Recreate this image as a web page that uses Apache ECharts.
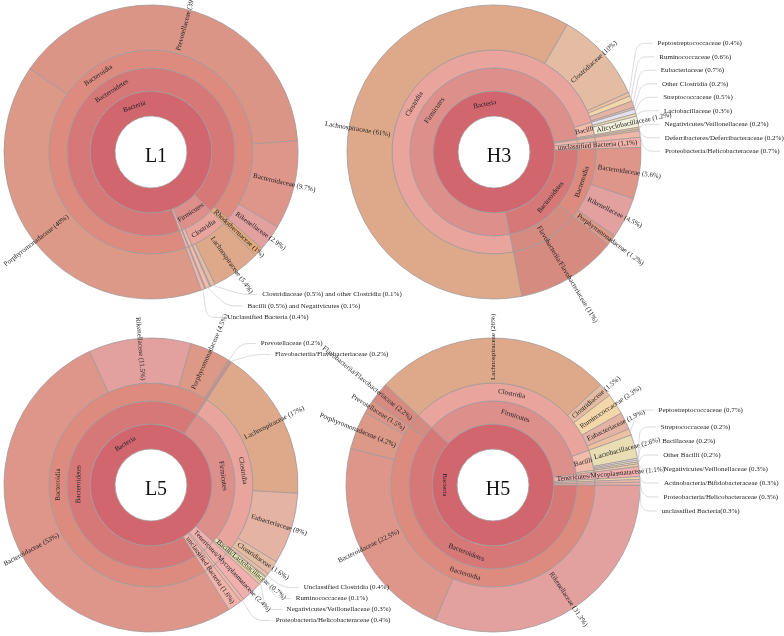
<!DOCTYPE html>
<html>
<head>
<meta charset="utf-8">
<title>Krona sunbursts</title>
<script src="https://cdn.jsdelivr.net/npm/echarts@6/dist/echarts.min.js"></script>
<style>html,body{margin:0;background:#fff}#main{width:784px;height:636px}</style>
</head>
<body>
<div id="main"></div>
<script>
// ---- L1 ----
var L1_phylum = ['Bacteroidetes', 'Bacteroidetes', 'Bacteroidetes', 'Bacteroidetes', 'Bacteroidetes',
  'Firmicutes', 'Firmicutes', 'Firmicutes', 'Firmicutes', 'Firmicutes', 'Unclassified Bacteria'];
var L1_class = ['Bacteroidia', 'Bacteroidia', 'Bacteroidia', 'Bacteroidia', 'Rhodothermaceae (1%)',
  'Clostridia', 'Clostridia', 'Clostridia', 'Bacilli', 'Negativicutes', ''];
var L1_family = ['Porphyromonadaceae (40%)', 'Prevotellaceae (39%)', 'Bacteroidaceae (9.7%)', 'Rikenellaceae (2.9%)', '',
  'Lachnospiraceae (5.4%)', 'Clostridiaceae', 'Other Clostridia', '', '', ''];
var L1_value = [40, 39, 9.7, 2.9, 1, 5.4, 0.5, 0.1, 0.5, 0.1, 0.4];
var L1_note = ['', '', '', '', '', '', 'Clostridiaceae (0.5%) and other Clostridia (0.1%)', '',
  'Bacilli (0.5%) and Negativicutes (0.1%)', '', 'Unclassified Bacteria (0.4%)'];

// ---- H3 ----
var H3_phylum = ['Firmicutes', 'Firmicutes', 'Firmicutes', 'Firmicutes', 'Firmicutes', 'Firmicutes',
  'Firmicutes', 'Firmicutes', 'Firmicutes', 'Firmicutes', 'Deferribacteres', 'Proteobacteria',
  'unclassified Bacteria (1,1%)', 'Bacteroidetes', 'Bacteroidetes', 'Bacteroidetes', 'Bacteroidetes'];
var H3_class = ['Clostridia', 'Clostridia', 'Clostridia', 'Clostridia', 'Clostridia', 'Clostridia',
  'Bacilli', 'Bacilli', 'Bacilli', 'Negativicutes', '', '', '',
  'Bacteroidia', 'Bacteroidia', 'Bacteroidia', 'Flavobacteriia/Flavobacteriaceae (11%)'];
var H3_family = ['Lachnospiraceae (61%)', 'Clostridiaceae (10%)', 'Peptostreptococcaceae', 'Ruminococcaceae',
  'Eubacteriaceae', 'Other Clostridia', 'Streptococcaceae', 'Lactobacillaceae', 'Alicyclobacillaceae (1.2%)',
  '', '', '', '', 'Bacteroidaceae (5.6%)', 'Rikenellaceae (4.5%)', 'Porphyromonadaceae (1.2%)', ''];
var H3_value = [61, 10, 0.4, 0.6, 0.7, 0.2, 0.5, 0.3, 1.2, 0.2, 0.2, 0.7, 1.1, 5.6, 4.5, 1.2, 11];
var H3_note = ['', '', 'Peptostreptococcaceae (0.4%)', 'Ruminococcaceae (0.6%)', 'Eubacteriaceae (0.7%)',
  'Other Clostridia (0.2%)', 'Streptococcaceae (0.5%)', 'Lactobacillaceae (0.3%)', '',
  'Negativicutes/Veillonellaceae (0.2%)', 'Deferribacteres/Deferribacteraceae (0.2%)',
  'Proteobacteria/Helicobacteraceae (0.7%)', '', '', '', '', ''];

// ---- L5 ----
var L5_phylum = ['Bacteroidetes', 'Bacteroidetes', 'Bacteroidetes', 'Bacteroidetes', 'Bacteroidetes',
  'Firmicutes', 'Firmicutes', 'Firmicutes', 'Firmicutes', 'Firmicutes', 'Firmicutes', 'Firmicutes',
  'Tenericutes/Mycoplasmataceae (2.4%)', 'Proteobacteria', 'unclassified Bacteria (1.6%)'];
var L5_class = ['Bacteroidia', 'Bacteroidia', 'Bacteroidia', 'Bacteroidia', 'Flavobacteriia',
  'Clostridia', 'Clostridia', 'Clostridia', 'Clostridia', 'Clostridia',
  'Bacilli/Lactobacillaceae (0.7%)', 'Negativicutes', '', '', ''];
var L5_family = ['Bacteroidaceae (53%)', 'Rikenellaceae (11.5%)', 'Porphyromonadaceae (4.5%)', 'Prevotellaceae', '',
  'Lachnospiraceae (17%)', 'Eubacteriaceae (8%)', 'Clostridiaceae (1.6%)', 'Unclassified Clostridia',
  'Ruminococcaceae', '', '', '', '', ''];
var L5_value = [53, 11.5, 4.5, 0.2, 0.2, 17, 8, 1.6, 0.4, 0.1, 0.7, 0.3, 2.4, 0.4, 1.6];
var L5_note = ['', '', '', 'Prevotellaceae (0.2%)', 'Flavobacteriia/Flavobacteriaceae (0.2%)',
  '', '', '', 'Unclassified Clostridia (0.4%)', 'Ruminococcaceae (0.1%)', '',
  'Negativicutes/Veillonellaceae (0.3%)', '', 'Proteobacteria/Helicobacteraceae (0.4%)', ''];

// ---- H5 ----
var H5_phylum = ['Bacteroidetes', 'Bacteroidetes', 'Bacteroidetes', 'Bacteroidetes', 'Bacteroidetes',
  'Firmicutes', 'Firmicutes', 'Firmicutes', 'Firmicutes', 'Firmicutes', 'Firmicutes', 'Firmicutes',
  'Firmicutes', 'Firmicutes', 'Firmicutes', 'Tenericutes/Mycoplasmataceae (1.1%)', 'Actinobacteria',
  'Proteobacteria', 'unclassified Bacteria'];
var H5_class = ['Bacteroidia', 'Bacteroidia', 'Bacteroidia', 'Bacteroidia', 'Flavobacteriia',
  'Clostridia', 'Clostridia', 'Clostridia', 'Clostridia', 'Clostridia',
  'Bacilli', 'Bacilli', 'Bacilli', 'Bacilli', 'Negativicutes', '', '', '', ''];
var H5_family = ['Rikenellaceae (31.3%)', 'Bacteroidaceae (22.5%)', 'Porphyromonadaceae (4.2%)',
  'Prevotellaceae (1.5%)', 'Flavobacteriia/Flavobacteriaceae (2.2%)',
  'Lachnospiraceae (26%)', 'Clostridiaceae (1.5%)', 'Ruminococcaceae (2.3%)', 'Eubacteriaceae (1.9%)',
  'Peptostreptococcaceae', 'Lactobacillaceae (2.6%)', 'Streptococcaceae', 'Bacillaceae', 'Other Bacilli',
  '', '', '', '', ''];
var H5_value = [31.3, 22.5, 4.2, 1.5, 2.2, 26, 1.5, 2.3, 1.9, 0.7, 2.6, 0.2, 0.2, 0.2, 0.3, 1.1, 0.3, 0.3, 0.3];
var H5_note = ['', '', '', '', '', '', '', '', '', 'Peptostreptococcaceae (0,7%)', '',
  'Streptococcaceae (0.2%)', 'Bacillaceae (0.2%)', 'Other Bacilli (0.2%)',
  'Negativicutes/Veillonellaceae (0.3%)', '', 'Actinobacteria/Bifidobacteraceae (0.3%)',
  'Proteobacteria/Helicobacteraceae (0.3%)', 'unclassified Bacteria(0.3%)'];

var FONT = 'Liberation Serif';

var palette = {
  'Bacteria': '#d2666f',
  'Bacteroidetes': '#d67877',
  'Firmicutes': '#dc8f8b',
  'Bacteroidia': '#de8b7f',
  'Clostridia': '#e9a59d',
  'Bacilli': '#f2bcad',
  'Negativicutes': '#eccaa2',
  'Flavobacteriia': '#d58b80',
  'Flavobacteriia/Flavobacteriaceae': '#d58b80',
  'Porphyromonadaceae': '#dc9987',
  'Prevotellaceae': '#da9587',
  'Bacteroidaceae': '#df968a',
  'Rikenellaceae': '#e2a09e',
  'Rhodothermaceae': '#e4a97b',
  'Lachnospiraceae': '#dea98a',
  'Clostridiaceae': '#e4bca3',
  'Eubacteriaceae': '#e5b3a3',
  'Peptostreptococcaceae': '#eec0a2',
  'Ruminococcaceae': '#f4d7a9',
  'Other Clostridia': '#ebc3b6',
  'Unclassified Clostridia': '#e8bea6',
  'Streptococcaceae': '#e3e1ef',
  'Lactobacillaceae': '#e9ddb3',
  'Alicyclobacillaceae': '#f3f1db',
  'Bacillaceae': '#eee2c6',
  'Other Bacilli': '#f1d9b9',
  'Bacilli/Lactobacillaceae': '#e9e8b6',
  'Deferribacteres': '#e7bf93',
  'Proteobacteria': '#efb8a9',
  'Actinobacteria': '#eed6ae',
  'Tenericutes/Mycoplasmataceae': '#efb0ae',
  'unclassified Bacteria': '#f1b3aa',
  'Unclassified Bacteria': '#f1b3aa'
};

function baseName(key) { return key.replace(/\s*\(.*$/, ''); }
function colorFor(key, fallback) {
  var n = baseName(key);
  return palette[n] || palette[n.split('/')[0]] || fallback;
}

// build the hierarchy from the flat per-leaf arrays (consecutive equal names are one node)
function makeTree(ph, cl, fa, val) {
  var root = {key: 'Bacteria', kids: []};
  for (var i = 0; i < val.length; i++) {
    var path = [ph[i], cl[i], fa[i]];
    var parent = root;
    for (var d = 0; d < 3; d++) {
      var last = parent.kids[parent.kids.length - 1];
      var node;
      if (d < 2 && last && last.key === path[d]) node = last;
      else { node = {key: path[d], kids: []}; parent.kids.push(node); }
      parent = node;
    }
    parent.leaf = i;
  }
  (function sum(n) {
    if (!n.kids.length) { n.value = val[n.leaf]; return n.value; }
    n.value = 0;
    n.kids.forEach(function (k) { n.value += sum(k); });
    return n.value;
  })(root);
  return root;
}

function namedBelow(n) {
  return n.kids.some(function (k) { return k.key !== '' || namedBelow(k); });
}
function firstLeaf(n) { return n.kids.length ? firstLeaf(n.kids[0]) : n.leaf; }

function toItem(n, parentColor, notes) {
  var color = n.key === '' ? parentColor : colorFor(n.key, parentColor);
  var item = {name: n.key, itemStyle: {color: color}};
  if (n.kids.length) item.children = n.kids.map(function (k) { return toItem(k, color, notes); });
  else item.value = n.value;
  if (n.key === '') item.label = {show: false};
  else if (!namedBelow(n)) {
    item.label = {show: notes[firstLeaf(n)] === '' && n.value >= 0.65, rotate: 'radial', align: 'left'};
  } else if (n.kids.length >= 2 && n.value >= 5) {
    item.label = {show: true, rotate: 'tangential', align: 'center'};
  } else if (n.kids.length >= 2 && n.value >= 1.9) {
    item.label = {show: true, rotate: 'radial', align: 'center'};
  } else item.label = {show: false};
  return item;
}

function sunburst(cx, cy, start, ph, cl, fa, val, notes) {
  var tree = makeTree(ph, cl, fa, val);
  return {
    type: 'sunburst',
    center: [cx, cy],
    radius: [36, 147],
    startAngle: start,
    sort: function (a, b) { return a.dataIndex - b.dataIndex; },
    nodeClick: false,
    emphasis: {disabled: true},
    itemStyle: {borderColor: '#a39898', borderWidth: 0.8},
    label: {fontFamily: FONT, fontSize: 7, color: '#222', distance: 3},
    levels: [{}, {r0: 36, r: 61}, {r0: 61, r: 84}, {r0: 84, r: 102}, {r0: 102, r: 147}],
    data: [toItem(tree, palette.Bacteria, notes)]
  };
}

// transparent pie over the outer ring, only used for the leader-line labels
function notePie(cx, cy, start, val, notes, lh, len, bottom) {
  return {
    type: 'pie',
    left: 0, top: 0, width: 784, height: bottom,
    center: [cx, cy],
    radius: [102, 147],
    startAngle: start,
    clockwise: true,
    silent: true,
    z: 5,
    itemStyle: {color: 'rgba(0,0,0,0)', borderWidth: 0},
    label: {position: 'outside', fontFamily: FONT, fontSize: 7, color: '#222',
      lineHeight: lh, overflow: 'none', formatter: '{b}'},
    labelLine: {length: len, length2: 16, smooth: 0.3, lineStyle: {color: '#c9c9d3', width: 0.7}},
    data: val.map(function (v, i) {
      var on = notes[i] !== '';
      return {value: v, name: notes[i], label: {show: on}, labelLine: {show: on}};
    })
  };
}

function centerTitle(text, cx, cy) {
  return {text: text, left: cx, top: cy, textAlign: 'center', textVerticalAlign: 'middle',
    textStyle: {fontFamily: FONT, fontSize: 20, fontWeight: 'normal', color: '#111'}};
}

var myChart = echarts.init(document.getElementById('main'));
var option = {
  animation: false,
  backgroundColor: '#fff',
  title: [centerTitle('L1', 151, 152), centerTitle('H3', 494, 152),
          centerTitle('L5', 151, 485), centerTitle('H5', 493, 485)],
  series: [
    sunburst(151, 152, -70, L1_phylum, L1_class, L1_family, L1_value, L1_note),
    sunburst(494, 152, -79, H3_phylum, H3_class, H3_family, H3_value, H3_note),
    sunburst(151, 485, -58, L5_phylum, L5_class, L5_family, L5_value, L5_note),
    sunburst(493, 485, 0, H5_phylum, H5_class, H5_family, H5_value, H5_note),
    notePie(151, 152, -70, L1_value, L1_note, 9.5, 10, 636),
    notePie(494, 152, -79, H3_value, H3_note, 11.5, 8, 158),
    notePie(151, 485, -58, L5_value, L5_note, 9, 20, 636),
    notePie(493, 485, 0, H5_value, H5_note, 12, 8, 518)
  ]
};
myChart.setOption(option);
</script>
</body>
</html>
